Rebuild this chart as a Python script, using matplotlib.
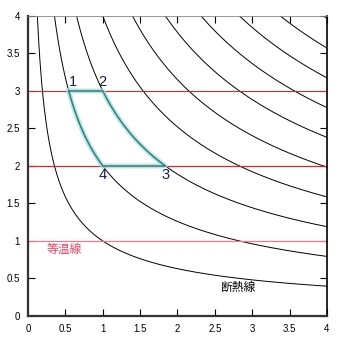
import matplotlib.pyplot as plt
import numpy as np

plt.rcParams['font.family'] = ['Liberation Sans', 'Noto Sans CJK JP', 'DejaVu Sans']

# adiabat constants: T * V**(2/3) = C
adiabat_C = [1, 2, 3, 4, 5, 6, 7, 8, 9, 10]
gamma_exp = 2.0 / 3.0

# isotherms
iso_T = [3, 2, 1]
iso_colors = ['#c03030', '#e82020', '#f07888']
iso_lw = [0.8, 0.9, 0.9]

# Carnot cycle: hot T, cold T, adiabats through 1-4 and 2-3
T_hot = 3
T_cold = 2
C_left = 2
C_right = 3

ticks = [0, 0.5, 1, 1.5, 2, 2.5, 3, 3.5, 4]
tick_labels = ['0', '0.5', '1', '1.5', '2', '2.5', '3', '3.5', '4']

def vol(C, T):
    return (C / T) ** 1.5

fig = plt.figure(figsize=(3.42, 3.39), dpi=100)
ax = fig.add_axes([0.082, 0.068, 0.874, 0.885])

V = np.linspace(0.01, 4, 800)
for C in adiabat_C:
    ax.plot(V, C * V ** (-gamma_exp), color='black', lw=0.7)

for T, c, lw in zip(iso_T, iso_colors, iso_lw):
    ax.axhline(T, color=c, lw=lw)

# cycle path 1 -> 2 -> 3 -> 4 -> 1
V1 = vol(C_left, T_hot)
V2 = vol(C_right, T_hot)
V3 = vol(C_right, T_cold)
V4 = vol(C_left, T_cold)
v23 = np.linspace(V2, V3, 100)
v41 = np.linspace(V4, V1, 100)
px = np.concatenate([[V1, V2], v23, [V3, V4], v41])
py = np.concatenate([[T_hot, T_hot], C_right * v23 ** (-gamma_exp),
                     [T_cold, T_cold], C_left * v41 ** (-gamma_exp)])
ax.plot(px, py, color='#a8dcdc', lw=3.6, alpha=0.75, solid_joinstyle='round')
ax.plot(px, py, color='#2a7f7f', lw=1.0)

lbl = dict(color='#102050', fontsize=10.5)
ax.text(V1, T_hot + 0.03, '1', ha='left', va='bottom', **lbl)
ax.text(V2, T_hot + 0.03, '2', ha='center', va='bottom', **lbl)
ax.text(V3, T_cold - 0.03, '3', ha='center', va='top', **lbl)
ax.text(V4, T_cold - 0.03, '4', ha='center', va='top', **lbl)

ax.text(0.25, 0.88, '等温線', color='#f04060', fontsize=8.5, va='center')
ax.text(2.57, 0.37, '断熱線', color='black', fontsize=8.5, va='center')

ax.set_xlim(0, 4)
ax.set_ylim(0, 4)
ax.set_xticks(ticks)
ax.set_xticklabels(tick_labels)
ax.set_yticks(ticks)
ax.set_yticklabels(tick_labels)
ax.tick_params(direction='in', top=True, right=True, length=5, width=0.8,
               labelsize=7, pad=6)
ax.spines['left'].set_linewidth(1.6)
ax.spines['bottom'].set_linewidth(1.6)
ax.spines['left'].set_color('#333333')
ax.spines['bottom'].set_color('#333333')
ax.spines['top'].set_linewidth(0.6)
ax.spines['top'].set_color('#888888')
ax.spines['right'].set_linewidth(1.2)

fig.savefig('out.png', dpi=100)
